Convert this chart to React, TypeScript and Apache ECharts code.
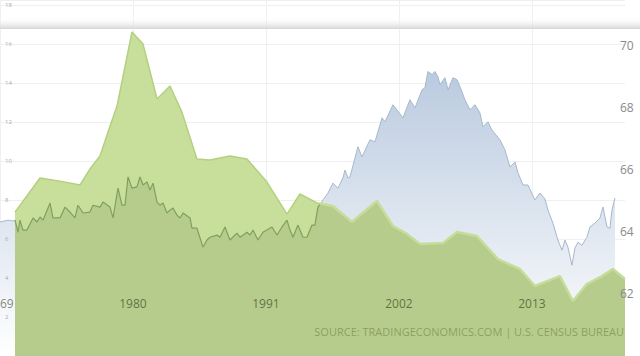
import React, { useEffect, useRef } from 'react';
import * as echarts from 'echarts';

// x-axis tick labels (years)
const xLabelYears = [1969, 1980, 1991, 2002, 2013];

// U.S. homeownership rate (%), right axis
const homeownershipYears = [
  1969.0, 1969.66, 1970.08, 1970.24, 1970.49, 1970.65, 1970.9, 1971.23, 1971.73, 1972.06,
  1972.31, 1972.56, 1973.14, 1973.38, 1973.96, 1974.38, 1974.79, 1975.2, 1975.45, 1975.87,
  1976.44, 1976.69, 1977.27, 1977.52, 1978.1, 1978.35, 1978.76, 1979.09, 1979.34, 1979.59,
  1979.92, 1980.33, 1980.58, 1980.83, 1981.16, 1981.41, 1981.66, 1981.99, 1982.23, 1982.48,
  1982.81, 1983.06, 1983.31, 1983.64, 1983.89, 1984.14, 1984.72, 1984.88, 1985.29, 1985.79,
  1986.12, 1986.37, 1986.95, 1987.2, 1987.61, 1988.02, 1988.6, 1988.85, 1989.43, 1989.68,
  1989.93, 1990.34, 1990.75, 1991.5, 1991.91, 1992.33, 1992.74, 1992.99, 1993.23, 1993.65,
  1994.06, 1994.39, 1994.81, 1995.05, 1995.3, 1995.47, 1995.72, 1996.13, 1996.54, 1996.96,
  1997.37, 1997.54, 1997.78, 1997.95, 1998.61, 1998.94, 1999.6, 2000.02, 2000.6, 2000.84,
  2001.51, 2002.33, 2002.91, 2003.33, 2003.91, 2004.15, 2004.4, 2004.73, 2004.98, 2005.23,
  2005.39, 2005.81, 2006.06, 2006.47, 2006.8, 2007.05, 2007.46, 2007.88, 2008.29, 2008.7,
  2008.95, 2009.36, 2009.69, 2010.36, 2010.77, 2011.18, 2011.6, 2011.85, 2012.26, 2012.67,
  2013.25, 2013.67, 2014.08, 2014.33, 2014.74, 2015.15, 2015.49, 2015.73, 2015.98, 2016.31,
  2016.56, 2016.81, 2017.14, 2017.55, 2017.8, 2018.21, 2018.63, 2018.88, 2019.21, 2019.45,
  2019.62, 2019.87,
];
const homeownershipRate = [
  64.31, 64.37, 64.34, 64.37, 63.98, 64.37, 64.05, 64.05, 64.44, 64.31,
  64.47, 64.37, 64.92, 64.44, 64.44, 64.79, 64.63, 64.44, 64.85, 64.6,
  64.63, 64.85, 64.79, 64.95, 64.79, 64.44, 65.4, 64.85, 64.85, 65.76,
  65.4, 65.44, 65.76, 65.5, 65.6, 65.34, 65.56, 64.95, 64.85, 64.92,
  64.6, 64.69, 64.76, 64.53, 64.44, 64.6, 64.44, 64.11, 64.11, 63.5,
  63.73, 63.82, 63.89, 63.82, 64.15, 63.73, 63.95, 63.82, 63.98, 63.89,
  64.05, 63.73, 63.98, 64.15, 63.89, 64.15, 64.37, 64.05, 63.82, 64.21,
  63.82, 63.82, 64.21, 64.21, 64.79, 64.87, 65.02, 65.24, 65.56, 65.4,
  65.73, 65.98, 65.73, 65.76, 66.73, 66.4, 66.95, 66.89, 67.66, 67.53,
  68.08, 67.66, 68.24, 67.98, 68.56, 68.63, 69.15, 69.05, 69.15, 68.98,
  68.73, 68.95, 68.56, 68.95, 68.89, 68.66, 68.24, 67.92, 68.08, 67.82,
  67.37, 67.53, 67.27, 66.95, 66.63, 66.08, 66.24, 65.89, 65.5, 65.5,
  65.02, 65.24, 65.05, 64.69, 64.27, 63.73, 63.4, 63.73, 63.5, 62.92,
  63.47, 63.66, 63.56, 63.82, 64.15, 64.27, 64.44, 64.79, 64.15, 64.11,
  64.69, 65.08,
];

// Mortgage rate (%), left axis
const mortgageYears = [
  1970.24, 1972.31, 1973.96, 1975.62, 1976.44, 1977.27, 1978.1, 1978.68, 1979.92, 1980.83,
  1981.99, 1983.06, 1984.05, 1985.29, 1986.37, 1988.02, 1989.43, 1991.08, 1992.74, 1993.81,
  1995.22, 1995.47, 1996.54, 1998.11, 2000.18, 2001.51, 2002.66, 2003.74, 2005.64, 2006.8,
  2008.45, 2010.19, 2012.01, 2013.25, 2015.32, 2016.39, 2017.55, 2018.79, 2019.7, 2020.7,
];
const mortgageRate = [
  7.38, 9.13, 8.97, 8.77, 9.59, 10.26, 11.79, 12.82, 16.62, 16.0,
  13.18, 13.85, 12.51, 10.1, 10.05, 10.26, 10.1, 8.92, 7.28, 8.31,
  7.85, 7.82, 7.69, 6.87, 7.95, 6.67, 6.26, 5.74, 5.79, 6.36,
  6.15, 4.97, 4.46, 3.59, 4.1, 2.82, 3.69, 4.1, 4.46, 3.95,
];

// year where the two lines cross
const crossoverYear = 1995.47;
const sourceText = 'SOURCE: TRADINGECONOMICS.COM | U.S. CENSUS BUREAU';

export default function App() {
  const ref = useRef<HTMLDivElement>(null);

  useEffect(() => {
    document.body.style.margin = '0';
    if (!ref.current) return;
    const chart = echarts.init(ref.current, undefined, { renderer: 'svg' });

    const ho = homeownershipYears.map((y, i) => [y, homeownershipRate[i]]);
    const mo = mortgageYears.map((y, i) => [y, mortgageRate[i]]);
    const moStart = mortgageYears[0];
    const moPre = mo.filter((p) => p[0] <= crossoverYear);
    const moPost = mo.filter((p) => p[0] >= crossoverYear);
    const hoPre = ho.filter((p) => p[0] >= moStart && p[0] <= crossoverYear);

    const font = '"Open Sans", "DejaVu Sans", sans-serif';

    const xBase = {
      type: 'value',
      min: 1969,
      max: 2020.7,
      axisLine: { show: false },
      axisTick: { show: false, customValues: xLabelYears },
    };
    const leftBase = {
      type: 'value',
      min: 0,
      max: 18.26,
      interval: 2,
      position: 'left',
      axisLine: { show: false },
      axisTick: { show: false },
    };
    const rightBase = {
      type: 'value',
      min: 60,
      max: 71.45,
      interval: 2,
      position: 'right',
      axisLine: { show: false },
      axisTick: { show: false },
    };

    chart.setOption({
      animation: false,
      grid: {
        left: 0,
        right: 15,
        top: 0,
        bottom: 0,
        containLabel: false,
        outerBoundsMode: 'none',
      },
      xAxis: [
        // grid lines, under the areas
        {
          ...xBase,
          axisLabel: { show: false },
          splitLine: { show: true, lineStyle: { color: '#f0f0f0', width: 1 } },
        },
        // labels, over the areas
        {
          ...xBase,
          z: 10,
          position: 'bottom',
          splitLine: { show: false },
          axisLabel: {
            customValues: xLabelYears,
            inside: true,
            margin: 47,
            color: 'rgba(20,32,0,0.55)',
            fontSize: 12,
            fontFamily: font,
            alignMinLabel: 'center',
            formatter: (v: number) => String(v),
          },
        },
      ],
      yAxis: [
        {
          ...leftBase,
          axisLabel: { show: false },
          splitLine: { show: true, lineStyle: { color: '#efefef', width: 1 } },
        },
        {
          ...rightBase,
          axisLabel: { show: false },
          splitLine: { show: false },
        },
        {
          ...leftBase,
          z: 10,
          splitLine: { show: false },
          axisLabel: {
            inside: true,
            margin: 5,
            fontSize: 6,
            color: '#aaaaaa',
            fontFamily: font,
            formatter: (v: number) => (v >= 2 && v <= 18 && v % 2 === 0 ? String(v) : ''),
          },
        },
        {
          ...rightBase,
          z: 10,
          splitLine: { show: false },
          axisLabel: {
            margin: -5,
            fontSize: 12,
            color: '#8a8a8a',
            fontFamily: font,
            formatter: (v: number) => (v >= 62 && v <= 70 && v % 2 === 0 ? String(v) : ''),
          },
        },
      ],
      series: [
        {
          name: 'Homeownership Rate',
          type: 'line',
          xAxisIndex: 0,
          yAxisIndex: 1,
          data: ho,
          symbol: 'none',
          showSymbol: false,
          z: 1,
          lineStyle: { color: '#a6b8cd', width: 1 },
          areaStyle: {
            origin: 'start',
            opacity: 1,
            color: new echarts.graphic.LinearGradient(0, 0, 0, 1, [
              { offset: 0, color: '#bacadf' },
              { offset: 1, color: '#ffffff' },
            ]),
          },
        },
        {
          name: 'Mortgage Rate',
          type: 'line',
          xAxisIndex: 0,
          yAxisIndex: 0,
          data: moPre,
          symbol: 'none',
          showSymbol: false,
          z: 2,
          lineStyle: { color: '#b4d07f', width: 1.5 },
          areaStyle: { origin: 'start', opacity: 1, color: '#c7df9b' },
        },
        {
          name: 'Homeownership Rate (overlap)',
          type: 'line',
          xAxisIndex: 0,
          yAxisIndex: 1,
          data: hoPre,
          symbol: 'none',
          showSymbol: false,
          z: 3,
          lineStyle: { color: '#7f a05d'.replace(' ', ''), width: 1.2 },
          areaStyle: { origin: 'start', opacity: 1, color: '#b6cc8c' },
        },
        {
          name: 'Mortgage Rate (overlap)',
          type: 'line',
          xAxisIndex: 0,
          yAxisIndex: 0,
          data: moPost,
          symbol: 'none',
          showSymbol: false,
          z: 4,
          lineStyle: { color: '#c6dd99', width: 2.5 },
          areaStyle: { origin: 'start', opacity: 1, color: '#b6cc8c' },
        },
      ],
      graphic: [
        {
          type: 'rect',
          z: 100,
          shape: { x: 0, y: 17, width: 640, height: 12 },
          style: {
            fill: new echarts.graphic.LinearGradient(0, 0, 0, 1, [
              { offset: 0, color: 'rgba(255,255,255,0)' },
              { offset: 1, color: '#d6d6d6' },
            ]),
          },
        },
        {
          type: 'text',
          z: 100,
          right: 16,
          top: 326,
          style: {
            text: sourceText,
            font: '11px "Open Sans", "DejaVu Sans", sans-serif',
            fill: 'rgba(60,80,20,0.38)',
          },
        },
      ],
    });

    return () => chart.dispose();
  }, []);

  return (
    <div
      ref={ref}
      style={{ position: 'absolute', left: 0, top: 0, width: 640, height: 356 }}
    />
  );
}
